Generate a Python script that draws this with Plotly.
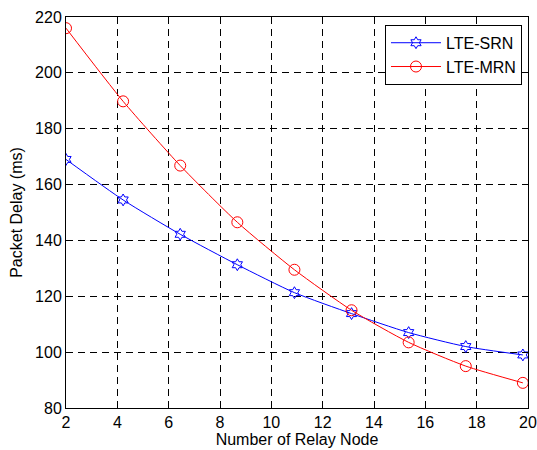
import plotly.graph_objects as go

# relay node counts where the markers sit
relay_nodes = [2, 4.225, 6.45, 8.675, 10.9, 13.125, 15.35, 17.575, 19.8]

# packet delay (ms)
srn_delay = [169, 154.5, 142.2, 131.3, 121.3, 113.8, 107.0, 102.0, 99.0]
mrn_delay = [216, 189.8, 166.8, 146.5, 129.5, 115.0, 103.5, 95.0, 89.0]

font_name = "Liberation Sans, Arial, sans-serif"

fig = go.Figure()

fig.add_trace(go.Scatter(
    x=relay_nodes, y=srn_delay, name="LTE-SRN",
    mode="lines+markers",
    line=dict(color="blue", width=1, shape="spline", smoothing=0.6),
    marker=dict(symbol="hexagram-open", size=9, color="blue", line=dict(width=1, color="blue")),
))

fig.add_trace(go.Scatter(
    x=relay_nodes, y=mrn_delay, name="LTE-MRN",
    mode="lines+markers",
    line=dict(color="red", width=1, shape="spline", smoothing=0.6),
    marker=dict(symbol="circle-open", size=11, color="red", line=dict(width=1, color="red")),
))

axis_style = dict(
    showline=True, linecolor="black", linewidth=1, mirror="ticks",
    ticks="inside", ticklen=5, tickcolor="black",
    showgrid=True, gridcolor="black", gridwidth=1, griddash="7px,5px",
    zeroline=False, ticklabeloverflow="allow", automargin=False,
    tickfont=dict(family=font_name, size=16, color="black"),
)

fig.update_xaxes(range=[2, 20], dtick=2, **axis_style,
                 title=dict(text="Number of Relay Node", standoff=2,
                            font=dict(family=font_name, size=16, color="black")))
fig.update_yaxes(range=[80, 220], dtick=20, **axis_style,
                 title=dict(text="Packet Delay (ms)", standoff=8,
                            font=dict(family=font_name, size=16, color="black")))

fig.update_layout(
    width=537, height=450,
    margin=dict(l=66, r=9, t=17, b=42),
    paper_bgcolor="white", plot_bgcolor="white",
    showlegend=True,
    legend=dict(
        x=0.987, y=0.98, xanchor="right", yanchor="top",
        bgcolor="white", bordercolor="black", borderwidth=1,
        font=dict(family=font_name, size=16, color="black"),
        tracegroupgap=0, itemwidth=50,
    ),
)

# drop the default body margin so the figure fills the window exactly
fig.write_html("out.html", config={"displayModeBar": False},
               post_script="document.body.style.margin = '0';")
